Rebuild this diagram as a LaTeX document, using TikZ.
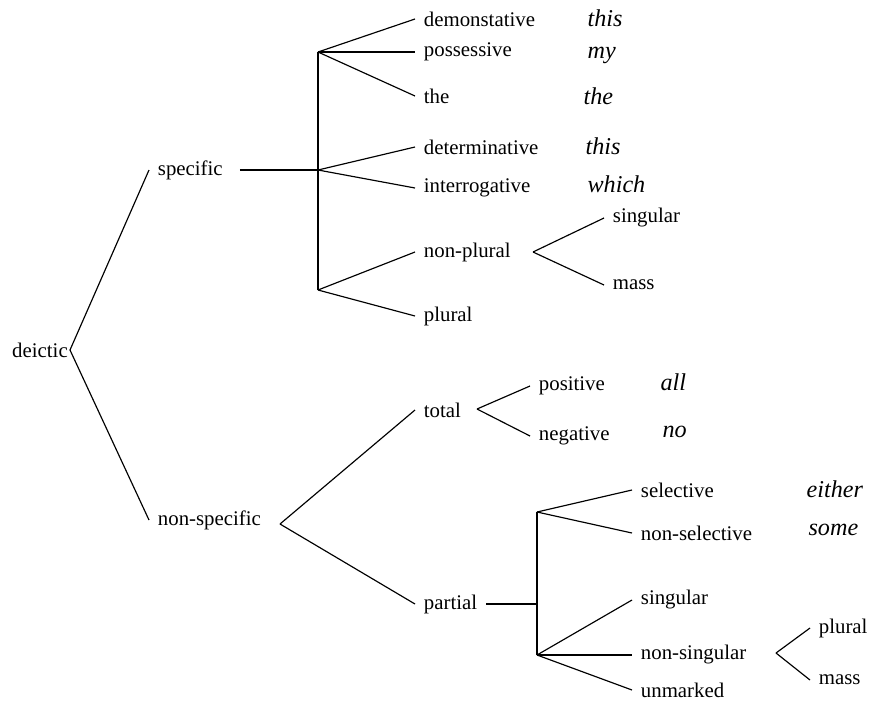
\documentclass[tikz,border=0pt]{standalone}
\usepackage{fontspec}
\setmainfont{Liberation Serif}[ItalicFont={Liberation Serif Italic}]
\begin{document}
\begin{tikzpicture}[x=0.6pt, y=-0.6pt, line width=0.7pt,
    term/.style={anchor=west, inner xsep=5pt, inner ysep=0pt, font=\fontsize{12.5}{14}\selectfont},
    word/.style={anchor=west, inner sep=0pt, font=\fontsize{14.5}{16}\selectfont\itshape}]
    \useasboundingbox (0,0) rectangle (871,708);

    % Root and first split
    \node[term, anchor=east, inner xsep=1pt] (deictic) at (70,350) {deictic};
    \node[term] (specific) at (149,170) {specific};
    \node[term] (nonspecific) at (149,520) {non-specific};
    \draw (deictic.east) -- (specific.west);
    \draw (deictic.east) -- (nonspecific.west);

    % Specific branch
    \coordinate (sp) at (318,170);
    \coordinate (spTop) at (318,52);
    \coordinate (spBot) at (318,290);
    \draw[shorten <=5pt] (specific.east) -- (sp);
    \draw (spTop) -- (spBot);

    \node[term] (demo) at (415,19) {demonstative};
    \node[term] (poss) at (415,52) {possessive};
    \node[term] (the) at (415,96) {the};
    \node[term] (deter) at (415,147) {determinative};
    \node[term] (inter) at (415,188) {interrogative};
    \node[term] (nonplural) at (415,252) {non-plural};
    \node[term] (plural) at (415,316) {plural};
    \draw (spTop) -- (demo.west);
    \draw (spTop) -- (poss.west);
    \draw (spTop) -- (the.west);
    \draw (sp) -- (deter.west);
    \draw (sp) -- (inter.west);
    \draw (spBot) -- (nonplural.west);
    \draw (spBot) -- (plural.west);

    % Examples
    \node[word] (exDemo) at (587,18) {this};
    \node[word] (exPoss) at (587,55) {my};
    \node[word] (exThe) at (583,96) {the};
    \node[word] (exDeter) at (585,146) {this};
    \node[word] (exInter) at (587,184) {which};

    % Non-plural split
    \coordinate (np) at (533,252);
    \node[term] (singularA) at (604,218) {singular};
    \node[term] (massA) at (604,285) {mass};
    \draw (np) -- (singularA.west);
    \draw (np) -- (massA.west);

    % Non-specific branch
    \coordinate (ns) at (280,524);
    \node[term] (total) at (415,410) {total};
    \node[term] (partial) at (415,604) {partial};
    \draw (ns) -- (total.west);
    \draw (ns) -- (partial.west);

    % Total split
    \coordinate (tt) at (477,409);
    \node[term] (positive) at (530,386) {positive};
    \node[term] (negative) at (530,436) {negative};
    \draw (tt) -- (positive.west);
    \draw (tt) -- (negative.west);
    \node[word] (exPos) at (660,382) {all};
    \node[word] (exNeg) at (662,432) {no};

    % Partial split
    \coordinate (pa) at (537,604);
    \coordinate (paTop) at (537,512);
    \coordinate (paBot) at (537,655);
    \draw (partial.east) -- (pa);
    \draw (paTop) -- (paBot);

    \node[term] (selective) at (632,490) {selective};
    \node[term] (nonselective) at (632,533) {non-selective};
    \node[term] (singularB) at (632,600) {singular};
    \node[term] (nonsingular) at (632,655) {non-singular};
    \node[term] (unmarked) at (632,690) {unmarked};
    \draw (paTop) -- (selective.west);
    \draw (paTop) -- (nonselective.west);
    \draw (paBot) -- (singularB.west);
    \draw (paBot) -- (nonsingular.west);
    \draw (paBot) -- (unmarked.west);
    \node[word] (exSel) at (806,489) {either};
    \node[word] (exNonsel) at (808,530) {some};

    % Non-singular split
    \coordinate (nsg) at (776,653);
    \node[term] (pluralB) at (810,628) {plural};
    \node[term] (massB) at (810,680) {mass};
    \draw (nsg) -- (pluralB.west);
    \draw (nsg) -- (massB.west);
\end{tikzpicture}
\end{document}
